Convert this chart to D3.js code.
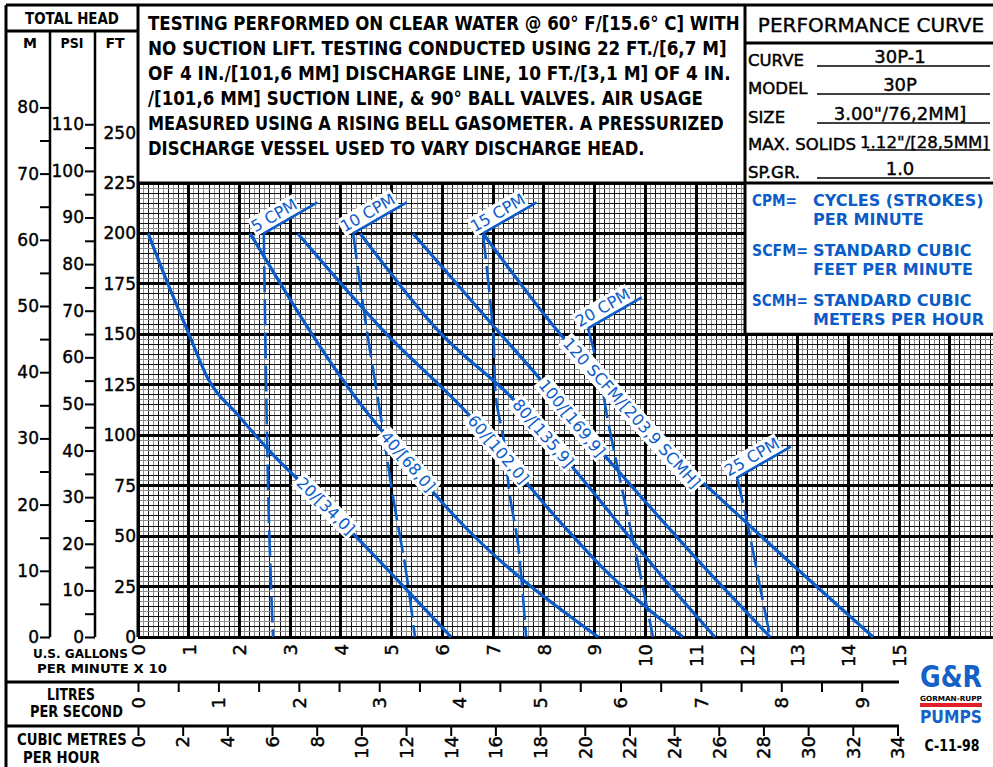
<!DOCTYPE html>
<html>
<head>
<meta charset="utf-8">
<script src="https://cdnjs.cloudflare.com/ajax/libs/d3/7.8.5/d3.min.js"></script>
<style>
body { margin: 0; background: #fff; }
svg { display: block; }
text { font-family: "DejaVu Sans", "Liberation Sans", sans-serif; }
</style>
</head>
<body>
<div id="chart"></div>
<script>
// ---- data (flow in US gpm, head in ft) ----
var gpmTicks = d3.range(0, 16);            // labels, x 10 gpm
var lpsTicks = d3.range(0, 9.5, 0.5);      // litres per second
var cmhTicks = d3.range(0, 36, 2);         // cubic metres per hour
var ftTicks = d3.range(0, 275, 25);
var mTicks = d3.range(0, 85, 5);
var psiTicks = d3.range(0, 115, 5);

// air consumption lines (solid)
var scfmNames = ["20/[34,0]", "40/[68,0]", "60/[102,0]", "80/[135,9]", "100/[169,9]", "120 SCFM/[203,9 SCMH]"];
var scfm20 = [[2, 200], [5.9, 175], [9.9, 151], [13.8, 128], [19.7, 110], [26, 92], [37, 65], [61.7, 0]];
var scfm40 = [[22.1, 200], [43.4, 117], [49.1, 99], [63.5, 57], [90.7, 0]];
var scfm60 = [[31.5, 200], [48.3, 152], [64.9, 111], [83.2, 57], [91.7, 34], [107.4, 0]];
var scfm80 = [[43.8, 200], [59.1, 152], [74.7, 116], [85.7, 84], [102.3, 33], [113.7, 0]];
var scfm100 = [[54.2, 200], [70.8, 152], [79.2, 128], [85.7, 108], [94.4, 83], [112.2, 33], [124.6, 0]];
var scfm120 = [[68, 200], [82.6, 152], [98.4, 108], [118.7, 59.5], [144.9, 0]];
var scfmLabelHead = [65, 87, 93, 101, 108.5, 111];

// stroke rate lines (dashed)
var cpmNames = ["5 CPM", "10 CPM", "15 CPM", "20 CPM", "25 CPM"];
var cpm5 = [[24.8, 200], [25.3, 118], [25.8, 58], [26.6, 0]];
var cpm10 = [[42.4, 200], [45.1, 152], [47.9, 108.5], [50.3, 69], [52.8, 33], [54.6, 0]];
var cpm15 = [[68, 200], [70, 151], [70.6, 117.5], [72, 99], [73.3, 70], [74.9, 46], [76.5, 0]];
var cpm20 = [[88.7, 153], [91.1, 129], [92.6, 107.5], [94.6, 83], [97, 54.5], [98.6, 36], [101.5, 0]];
var cpm25 = [[118.1, 79], [120.1, 56.5], [122.6, 25], [124.6, 0]];

var notes = [
	"TESTING PERFORMED ON CLEAR WATER @ 60\u00b0 F/[15.6\u00b0 C] WITH",
	"NO SUCTION LIFT. TESTING CONDUCTED USING 22 FT./[6,7 M]",
	"OF 4 IN./[101,6 MM] DISCHARGE LINE, 10 FT./[3,1 M]  OF 4 IN.",
	"/[101,6 MM] SUCTION LINE, & 90\u00b0 BALL VALVES. AIR USAGE",
	"MEASURED USING A RISING BELL GASOMETER. A PRESSURIZED",
	"DISCHARGE VESSEL USED TO VARY DISCHARGE HEAD."
];
var specLabels = ["CURVE", "MODEL", "SIZE", "MAX. SOLIDS", "SP.GR."];
var specValues = ["30P-1", "30P", "3.00\"/76,2MM]", "1.12\"/[28,5MM]", "1.0"];
var legendRows = [
	["CPM=", "CYCLES (STROKES)", "PER MINUTE"],
	["SCFM=", "STANDARD CUBIC", "FEET PER MINUTE"],
	["SCMH=", "STANDARD CUBIC", "METERS PER HOUR"]
];

// ---- unit conversions ----
var FT_PER_M = 3.28084, FT_PER_PSI = 2.31, GPM_PER_LPS = 15.850, GPM_PER_CMH = 4.4029;

var BLUE = "#0b5cc8";
var W = 993, H = 767;

var svg = d3.select("#chart").append("svg")
	.attr("width", W)
	.attr("height", H);

// scales
var x = d3.scaleLinear().domain([0, 150]).range([138, 899]);
var y = d3.scaleLinear().domain([0, 225]).range([637, 183]);
var yM = d3.scaleLinear().domain(y.domain().map(function(d) { return d / FT_PER_M; })).range(y.range());
var yPsi = d3.scaleLinear().domain(y.domain().map(function(d) { return d / FT_PER_PSI; })).range(y.range());
var xLps = d3.scaleLinear().domain(x.domain().map(function(d) { return d / GPM_PER_LPS; })).range(x.range());
var xCmh = d3.scaleLinear().domain(x.domain().map(function(d) { return d / GPM_PER_CMH; })).range(x.range());

// text helper; o.len squeezes the text to a width with a horizontal scale
function txt(g, s, px, py, o) {
	o = o || {};
	var t = g.append("text")
		.attr("transform", "translate(" + px + "," + py + ")")
		.attr("font-size", o.size || 15)
		.attr("font-weight", o.bold ? "bold" : "normal")
		.attr("text-anchor", o.anchor || "start")
		.attr("fill", o.fill || "#000")
		.text(s);
	if (o.ink) t.attr("stroke", o.fill || "#000").attr("stroke-width", o.ink);
	if (o.len) {
		var k = o.len / t.node().getComputedTextLength();
		t.attr("transform", "translate(" + px + "," + py + ") scale(" + k + ",1)");
	}
	return t;
}

function rule(g, x1, y1, x2, y2, w) {
	g.append("line")
		.attr("x1", x1).attr("y1", y1)
		.attr("x2", x2).attr("y2", y2)
		.attr("stroke", "#000")
		.attr("stroke-width", w || 3);
}

// ---- graph paper ----
var grid = svg.append("g").attr("shape-rendering", "crispEdges");
var gpmMax = Math.floor(x.invert(W));
var vMinor = d3.range(0, gpmMax + 1).filter(function(d) { return d % 10 !== 0; });
var vMajor = d3.range(0, gpmMax + 1).filter(function(d) { return d % 10 === 0; });
var hAll = d3.range(0, 91).map(function(i) { return i * 2.5; });
var hMinor = hAll.filter(function(d, i) { return i % 10 !== 0; });
var hMajor = hAll.filter(function(d, i) { return i % 10 === 0; });

grid.selectAll(".vmin").data(vMinor).join("line")
	.attr("x1", function(d) { return x(d); })
	.attr("x2", function(d) { return x(d); })
	.attr("y1", y(0)).attr("y2", y(225))
	.attr("stroke", function(d) { return d % 2 ? "#8f8f8f" : "#111"; })
	.attr("stroke-width", 1);
grid.selectAll(".hmin").data(hMinor).join("line")
	.attr("x1", x(0)).attr("x2", W)
	.attr("y1", function(d) { return y(d); })
	.attr("y2", function(d) { return y(d); })
	.attr("stroke", function(d) { return Math.round(d / 2.5) % 2 ? "#8f8f8f" : "#111"; })
	.attr("stroke-width", 1);
grid.selectAll(".vmaj").data(vMajor).join("line")
	.attr("x1", function(d) { return x(d); })
	.attr("x2", function(d) { return x(d); })
	.attr("y1", y(0)).attr("y2", y(225))
	.attr("stroke", "#000")
	.attr("stroke-width", 3);
grid.selectAll(".hmaj").data(hMajor).join("line")
	.attr("x1", x(0)).attr("x2", W)
	.attr("y1", function(d) { return y(d); })
	.attr("y2", function(d) { return y(d); })
	.attr("stroke", "#000")
	.attr("stroke-width", 3);

// ---- frame and boxes ----
var frame = svg.append("g");
var boxLeft = 745;
frame.append("rect")
	.attr("x", boxLeft).attr("y", y(225))
	.attr("width", W - boxLeft).attr("height", y(150) - y(225))
	.attr("fill", "#fff");
rule(frame, 6, 5, W, 5);
rule(frame, 6, 5, 6, H);
rule(frame, x(0), 5, x(0), y(0));
rule(frame, boxLeft, 5, boxLeft, y(150));
rule(frame, boxLeft, y(150), W, y(150));
rule(frame, x(0), y(225), W, y(225));
rule(frame, 6, 31, x(0), 31);
rule(frame, 50, 31, 50, y(0), 2.5);
rule(frame, 95, 31, 95, y(0), 2.5);
rule(frame, boxLeft, 43, W, 43);
rule(frame, 6, 682, x(150), 682);
rule(frame, 6, 726, x(150), 726);

// ---- header texts ----
var head = svg.append("g");
txt(head, "TOTAL HEAD", 72, 24, {size: 15, bold: true, anchor: "middle", len: 94});
txt(head, "M", 30, 48, {size: 14, bold: true, anchor: "middle"});
txt(head, "PSI", 72, 48, {size: 14, bold: true, anchor: "middle", len: 23});
txt(head, "FT", 115, 48, {size: 14, bold: true, anchor: "middle"});

var noteWidths = [592, 579, 583, 555, 576, 497];
notes.forEach(function(s, i) {
	txt(head, s, 148, 30 + i * 25, {size: 19, bold: true, len: noteWidths[i]});
});

txt(head, "PERFORMANCE CURVE", 871, 32, {size: 20, anchor: "middle", ink: 0.4});
specLabels.forEach(function(s, i) {
	var base = [66, 94, 123, 150, 178][i];
	txt(head, s, 748, base, {size: 16.5, ink: 0.5});
	var u0 = i === 3 ? 867 : 817;
	rule(head, u0, base, 990, base, 1.5);
	if (i === 3) txt(head, specValues[i], 860, base - 2, {size: 16.5, ink: 0.4, len: 129});
	else txt(head, specValues[i], 900, base - 3, {size: 18, anchor: "middle", ink: 0.4});
});

var keyWidths = [45, 56, 56];
legendRows.forEach(function(r, i) {
	var base = 206 + i * 50;
	txt(head, r[0], 752, base, {size: 16, bold: true, fill: BLUE, len: keyWidths[i]});
	txt(head, r[1], 813, base, {size: 16, bold: true, fill: BLUE});
	txt(head, r[2], 813, base + 19, {size: 16, bold: true, fill: BLUE});
});

// ---- head axes ----
function styleAxis(g, size) {
	g.attr("font-family", null).attr("font-size", size);
	g.select(".domain").remove();
	g.selectAll("line").attr("stroke", "#000").attr("stroke-width", 2);
	g.selectAll("text").attr("fill", "#000").attr("stroke", "#000").attr("stroke-width", 0.4);
}

var mAxis = svg.append("g").attr("transform", "translate(50,0)")
	.call(d3.axisLeft(yM).tickValues(mTicks).tickSize(10).tickPadding(1)
		.tickFormat(function(d) { return d % 10 === 0 ? d : ""; }));
styleAxis(mAxis, 17);

var psiAxis = svg.append("g").attr("transform", "translate(95,0)")
	.call(d3.axisLeft(yPsi).tickValues(psiTicks).tickSize(10).tickPadding(1)
		.tickFormat(function(d) { return d % 10 === 0 ? d : ""; }));
styleAxis(psiAxis, 17);

var ftAxis = svg.append("g").attr("transform", "translate(136,0)")
	.call(d3.axisLeft(y).tickValues(ftTicks).tickSize(0).tickPadding(0));
styleAxis(ftAxis, 17);

// ---- flow axes ----
function rotateLabels(g, off) {
	g.selectAll("text")
		.attr("transform", "rotate(-90)")
		.attr("text-anchor", "end")
		.attr("x", -off)
		.attr("y", 0)
		.attr("dy", "0.35em");
}

var gpmAxis = svg.append("g").attr("transform", "translate(0," + y(0) + ")")
	.call(d3.axisBottom(x).tickValues(gpmTicks.map(function(d) { return d * 10; })).tickSize(0)
		.tickFormat(function(d) { return d / 10; }));
styleAxis(gpmAxis, 18);
rotateLabels(gpmAxis, 7);

var lpsAxis = svg.append("g").attr("transform", "translate(0,682)")
	.call(d3.axisBottom(xLps).tickValues(lpsTicks).tickSize(10)
		.tickFormat(function(d) { return Number.isInteger(d) ? d : ""; }));
styleAxis(lpsAxis, 18);
rotateLabels(lpsAxis, 15);

var cmhAxis = svg.append("g").attr("transform", "translate(0,726)")
	.call(d3.axisBottom(xCmh).tickValues(cmhTicks).tickSize(10));
styleAxis(cmhAxis, 18);
rotateLabels(cmhAxis, 10);

var foot = svg.append("g");
txt(foot, "U.S. GALLONS", 33, 658, {size: 13, bold: true, len: 95});
txt(foot, "PER MINUTE X 10", 37, 673, {size: 13, bold: true, len: 130});
txt(foot, "LITRES", 47, 700, {size: 16, bold: true, len: 48});
txt(foot, "PER SECOND", 30, 717, {size: 16, bold: true, len: 93});
txt(foot, "CUBIC METRES", 17, 745, {size: 15, bold: true, len: 110});
txt(foot, "PER HOUR", 23, 763, {size: 15, bold: true, len: 77});

// logo and drawing number
txt(foot, "G&R", 920, 687, {size: 30, bold: true, fill: "#1462c8", len: 62});
txt(foot, "GORMAN-RUPP", 920, 701, {size: 7, bold: true, len: 62});
foot.append("rect").attr("x", 920).attr("y", 703).attr("width", 62).attr("height", 4).attr("fill", "#e3202a");
txt(foot, "PUMPS", 920, 723, {size: 18, bold: true, fill: "#1462c8", len: 62});
txt(foot, "C-11-98", 952, 751, {size: 15, bold: true, anchor: "middle", len: 55});

// ---- curves ----
var scfmSeries = [scfm20, scfm40, scfm60, scfm80, scfm100, scfm120];
var cpmSeries = [cpm5, cpm10, cpm15, cpm20, cpm25];

var solidLine = d3.line()
	.x(function(d) { return x(d[0]); })
	.y(function(d) { return y(d[1]); })
	.curve(d3.curveMonotoneX);
var dashLine = d3.line()
	.x(function(d) { return x(d[0]); })
	.y(function(d) { return y(d[1]); })
	.curve(d3.curveCatmullRom);

var curves = svg.append("g").attr("fill", "none").attr("stroke", BLUE);
curves.selectAll(".scfm").data(scfmSeries).join("path")
	.attr("d", solidLine)
	.attr("stroke-width", 3.2);
curves.selectAll(".cpm").data(cpmSeries).join("path")
	.attr("d", dashLine)
	.attr("stroke-width", 2.6)
	.attr("stroke-dasharray", "26,7");

// ---- curve labels ----
var labels = svg.append("g");

function pointAtHead(pts, h) {
	for (var i = 0; i < pts.length - 1; i++) {
		var a = pts[i], b = pts[i + 1];
		if (h <= a[1] && h >= b[1]) {
			var t = (a[1] - h) / (a[1] - b[1]);
			var ang = Math.atan2(y(b[1]) - y(a[1]), x(b[0]) - x(a[0])) * 180 / Math.PI;
			return {px: x(a[0] + t * (b[0] - a[0])), py: y(h), ang: ang};
		}
	}
	return null;
}

scfmSeries.forEach(function(pts, i) {
	var p = pointAtHead(pts, scfmLabelHead[i]);
	var g = labels.append("g")
		.attr("transform", "translate(" + p.px + "," + p.py + ") rotate(" + p.ang + ")");
	var t = g.append("text")
		.attr("text-anchor", "middle")
		.attr("dy", "0.35em")
		.attr("font-size", 16)
		.attr("fill", BLUE)
		.text(scfmNames[i]);
	var b = t.node().getBBox();
	g.insert("rect", "text")
		.attr("x", b.x - 2).attr("y", b.y)
		.attr("width", b.width + 4).attr("height", b.height)
		.attr("fill", "#fff");
});

cpmSeries.forEach(function(pts, i) {
	var p = pts[0];
	var g = labels.append("g")
		.attr("transform", "translate(" + x(p[0]) + "," + y(p[1]) + ") rotate(-30)");
	var t = g.append("text")
		.attr("x", -7)
		.attr("y", -5)
		.attr("font-size", 16)
		.attr("fill", BLUE)
		.text(cpmNames[i]);
	var b = t.node().getBBox();
	g.insert("rect", "text")
		.attr("x", b.x - 1).attr("y", b.y)
		.attr("width", b.width + 2).attr("height", b.height)
		.attr("fill", "#fff");
	g.append("line")
		.attr("x1", 0).attr("y1", 0)
		.attr("x2", 62).attr("y2", 0)
		.attr("stroke", BLUE)
		.attr("stroke-width", 2.6);
});
</script>
</body>
</html>
